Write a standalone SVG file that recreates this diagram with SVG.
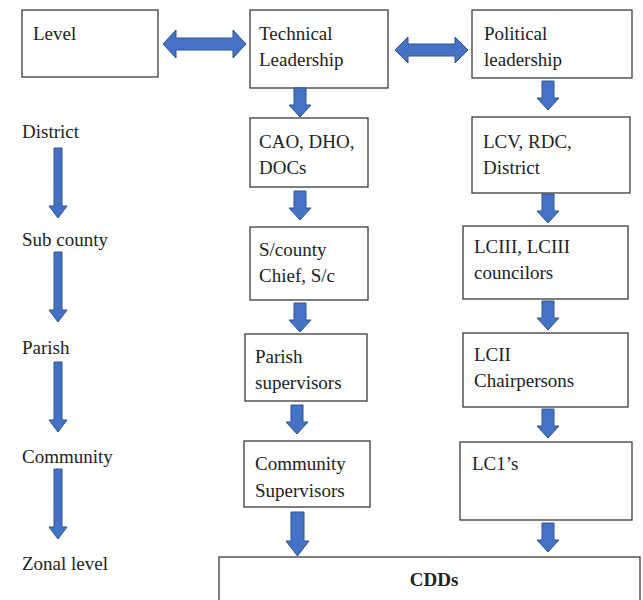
<svg xmlns="http://www.w3.org/2000/svg" width="643" height="600" viewBox="0 0 643 600">
  <defs>
    <style>
      .box { fill: #ffffff; stroke: #3a3a3a; stroke-width: 1.3; }
      .t { font-family: 'Liberation Serif', 'DejaVu Serif', serif; font-size: 19px; fill: #222; }
      .b { font-weight: bold; }
      .arw { fill: #4472C4; stroke: #2F528F; stroke-width: 1; }
    </style>
    <!-- block arrow pointing down, origin at top-centre, 30 long -->
    <path id="dn" d="M -6 0 H 6 V 17 H 11 L 0 29 L -11 17 H -6 Z"/>
    <!-- slim long arrow for the level column -->
    <path id="dnLong" d="M -4 0 H 4 V 58 H 9 L 0 70 L -9 58 H -4 Z"/>
  </defs>

  <rect width="643" height="600" fill="#ffffff"/>

  <!-- Level column -->
  <g id="level">
    <rect class="box" x="22" y="10" width="136" height="67"/>
    <text class="t" x="33" y="40">Level</text>
  </g>
  <g id="levels">
    <text class="t" x="22" y="138">District</text>
    <text class="t" x="22" y="246">Sub county</text>
    <text class="t" x="22" y="354">Parish</text>
    <text class="t" x="22" y="463">Community</text>
    <text class="t" x="22" y="570">Zonal level</text>
  </g>

  <!-- Technical column -->
  <g id="technical">
    <rect class="box" x="250" y="10" width="138" height="78"/>
    <text class="t" x="259" y="40">Technical</text>
    <text class="t" x="259" y="66">Leadership</text>
  </g>
  <g id="cao">
    <rect class="box" x="250" y="118" width="118" height="69"/>
    <text class="t" x="259" y="148">CAO, DHO,</text>
    <text class="t" x="259" y="174">DOCs</text>
  </g>
  <g id="scounty">
    <rect class="box" x="250" y="227" width="118" height="73"/>
    <text class="t" x="259" y="256">S/county</text>
    <text class="t" x="259" y="282">Chief, S/c</text>
  </g>
  <g id="parish">
    <rect class="box" x="245" y="334" width="122" height="67"/>
    <text class="t" x="255" y="363">Parish</text>
    <text class="t" x="255" y="389">supervisors</text>
  </g>
  <g id="community">
    <rect class="box" x="244" y="441" width="126" height="66"/>
    <text class="t" x="255" y="470">Community</text>
    <text class="t" x="255" y="497">Supervisors</text>
  </g>

  <!-- Political column -->
  <g id="political">
    <rect class="box" x="472" y="10" width="160" height="68"/>
    <text class="t" x="484" y="40">Political</text>
    <text class="t" x="484" y="66">leadership</text>
  </g>
  <g id="lcv">
    <rect class="box" x="472" y="117" width="158" height="76"/>
    <text class="t" x="483" y="148">LCV, RDC,</text>
    <text class="t" x="483" y="174">District</text>
  </g>
  <g id="lciii">
    <rect class="box" x="463" y="226" width="165" height="73"/>
    <text class="t" x="474" y="253">LCIII, LCIII</text>
    <text class="t" x="474" y="279">councilors</text>
  </g>
  <g id="lcii">
    <rect class="box" x="463" y="333" width="165" height="74"/>
    <text class="t" x="474" y="361">LCII</text>
    <text class="t" x="474" y="387">Chairpersons</text>
  </g>
  <g id="lc1">
    <rect class="box" x="460" y="442" width="172" height="78"/>
    <text class="t" x="472" y="470">LC1’s</text>
  </g>

  <!-- Bottom -->
  <g id="cdds">
    <rect class="box" x="219" y="557" width="421" height="50"/>
    <text class="t b" x="434" y="586" text-anchor="middle">CDDs</text>
  </g>

  <!-- Connectors -->
  <g id="connectors">
    <!-- two-headed arrows between the header boxes -->
    <path class="arw" d="M 163 44 L 176 30 V 38 H 233 V 30 L 246 44 L 233 58 V 50 H 176 V 58 Z"/>
    <path class="arw" d="M 395 50 L 408 37 V 44 H 455 V 37 L 468 50 L 455 63 V 56 H 408 V 63 Z"/>

    <!-- technical column -->
    <use class="arw" href="#dn" x="300" y="88"/>
    <use class="arw" href="#dn" x="300" y="191"/>
    <use class="arw" href="#dn" x="300" y="303"/>
    <use class="arw" href="#dn" x="297" y="405"/>
    <path class="arw" d="M 291 512 H 304 V 541 H 309 L 297.5 556 L 286 541 H 291 Z"/>

    <!-- political column -->
    <use class="arw" href="#dn" x="548" y="81"/>
    <use class="arw" href="#dn" x="548" y="194"/>
    <use class="arw" href="#dn" x="548" y="301"/>
    <use class="arw" href="#dn" x="548" y="409"/>
    <use class="arw" href="#dn" x="548" y="523"/>

    <!-- level column -->
    <use class="arw" href="#dnLong" x="58" y="148"/>
    <use class="arw" href="#dnLong" x="58" y="252"/>
    <use class="arw" href="#dnLong" x="58" y="362"/>
    <use class="arw" href="#dnLong" x="58" y="469"/>
  </g>
</svg>
